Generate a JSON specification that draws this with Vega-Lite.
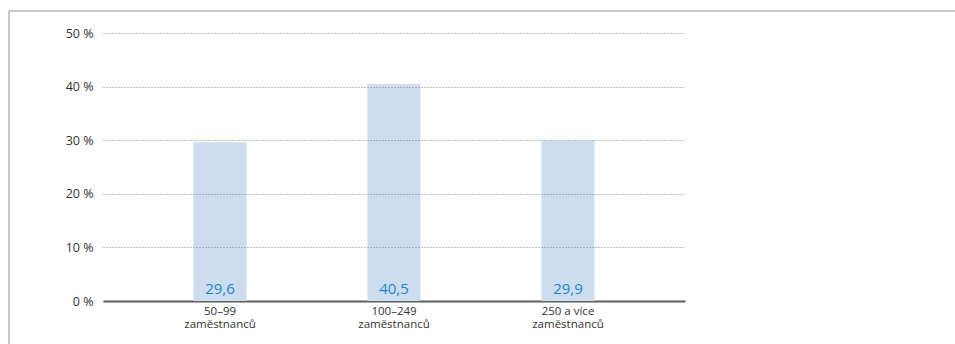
{
  "$schema": "https://vega.github.io/schema/vega-lite/v6.json",
  "autosize": {"type": "none"},
  "width": 582,
  "height": 268,
  "padding": {"left": 103, "top": 33, "right": 270, "bottom": 43},
  "background": "white",
  "config": {
    "view": {"stroke": null},
    "font": "Open Sans",
    "locale": {"number": {"decimal": ",", "thousands": " ", "grouping": [3], "currency": ["", " Kč"]}}
  },
  "datasets": {
    "bars": [
      {"kategorie": "50–99|zaměstnanců", "podil": 29.6},
      {"kategorie": "100–249|zaměstnanců", "podil": 40.5},
      {"kategorie": "250 a více|zaměstnanců", "podil": 29.9}
    ],
    "frame": [
      {"x": -94, "x2": 860, "y": 54.1, "y2": 54.1},
      {"x": -94, "x2": -94, "y": 54.1, "y2": -10}
    ]
  },
  "layer": [
    {
      "data": {"name": "bars"},
      "layer": [
        {
          "mark": {"type": "bar", "color": "#cddcee"},
          "encoding": {
            "x": {
              "field": "kategorie", "type": "nominal", "sort": null,
              "scale": {"paddingInner": 0.695, "paddingOuter": 0.52},
              "axis": {
                "title": null, "labelAngle": 0, "ticks": false,
                "labelExpr": "split(datum.label, '|')",
                "labelFontSize": 11.5, "labelColor": "#333333", "labelPadding": 4,
                "labelLineHeight": 13.5,
                "domainColor": "#555555", "domainWidth": 2
              }
            },
            "y": {
              "field": "podil", "type": "quantitative",
              "scale": {"domain": [0, 50]},
              "axis": {
                "title": null, "values": [0, 10, 20, 30, 40, 50],
                "labelExpr": "datum.value + ' %'",
                "domain": false, "ticks": false, "labelPadding": 10,
                "labelFontSize": 12.5, "labelColor": "#333333",
                "grid": true, "gridColor": "#808080", "gridDash": [1, 2], "gridWidth": 1,
                "zindex": 1
              }
            }
          }
        },
        {
          "mark": {"type": "text", "color": "#1a86c8", "fontSize": 15, "baseline": "alphabetic", "dy": -7},
          "encoding": {
            "x": {"field": "kategorie", "type": "nominal", "sort": null},
            "y": {"datum": 0, "type": "quantitative"},
            "text": {"field": "podil", "type": "quantitative", "format": ".1f"}
          }
        }
      ]
    },
    {
      "data": {"name": "frame"},
      "mark": {"type": "rule", "color": "#c8c8c8", "strokeWidth": 2, "clip": false},
      "encoding": {
        "x": {"field": "x", "type": "quantitative", "scale": {"domain": [0, 582]}, "axis": null},
        "x2": {"field": "x2"},
        "y": {"field": "y", "type": "quantitative"},
        "y2": {"field": "y2"}
      }
    }
  ],
  "resolve": {"scale": {"x": "independent"}}
}
